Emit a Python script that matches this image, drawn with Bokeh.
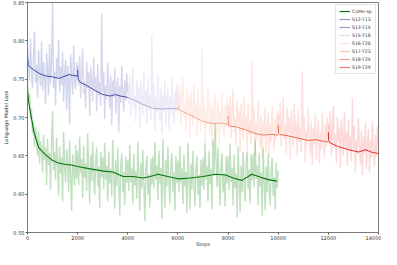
from bokeh.plotting import figure
from bokeh.models import Range1d, FixedTicker, Legend, LegendItem
from bokeh.embed import file_html
from bokeh.resources import INLINE

# ---------------- data ----------------
x_ticks = [0, 2000, 4000, 6000, 8000, 10000, 12000, 14000]
x_tick_labels = ["0", "2000", "4000", "6000", "8000", "10000", "12000", "14000"]
y_ticks = [0.55, 0.60, 0.65, 0.70, 0.75, 0.80, 0.85]
y_tick_labels = ["0.55", "0.60", "0.65", "0.70", "0.75", "0.80", "0.85"]
x_title = "Steps"
y_title = "Language Model Loss"

seg_labels = ["S12-T13", "S13-T15", "S15-T18", "S16-T20", "S17-T23", "S18-T25", "S19-T29"]
seg_starts = [0, 2000, 4000, 6000, 8000, 10000, 12000]
raw_step = 40

s12_raw = [0.792, 0.771, 0.748, 0.803, 0.760, 0.738, 0.781, 0.812, 0.745, 0.769,
           0.726, 0.788, 0.757, 0.741, 0.799, 0.735, 0.772, 0.751, 0.718, 0.784,
           0.763, 0.729, 0.796, 0.744, 0.770, 0.850, 0.739, 0.760, 0.715, 0.778,
           0.752, 0.801, 0.733, 0.766, 0.742, 0.786, 0.721, 0.758, 0.775, 0.709,
           0.768, 0.747, 0.691, 0.782, 0.756, 0.730, 0.794, 0.749, 0.737, 0.772, 0.753]
s13_raw = [0.768, 0.742, 0.781, 0.725, 0.756, 0.790, 0.731, 0.747, 0.712, 0.773,
           0.738, 0.759, 0.702, 0.766, 0.744, 0.721, 0.779, 0.735, 0.752, 0.708,
           0.770, 0.729, 0.746, 0.715, 0.836, 0.733, 0.760, 0.698, 0.742, 0.724,
           0.771, 0.739, 0.711, 0.755, 0.690, 0.748, 0.726, 0.764, 0.705, 0.737,
           0.752, 0.680, 0.741, 0.719, 0.767, 0.730, 0.708, 0.749, 0.722, 0.758, 0.733]
s15_raw = [0.742, 0.718, 0.755, 0.701, 0.733, 0.766, 0.712, 0.728, 0.694, 0.750,
           0.720, 0.739, 0.686, 0.748, 0.725, 0.703, 0.760, 0.716, 0.735, 0.692,
           0.751, 0.711, 0.729, 0.697, 0.808, 0.714, 0.744, 0.683, 0.726, 0.707,
           0.756, 0.721, 0.695, 0.739, 0.678, 0.731, 0.709, 0.749, 0.690, 0.722,
           0.740, 0.684, 0.727, 0.704, 0.752, 0.716, 0.693, 0.735, 0.708, 0.745, 0.719]
s16_raw = [0.731, 0.705, 0.744, 0.690, 0.722, 0.752, 0.699, 0.716, 0.680, 0.738,
           0.707, 0.726, 0.673, 0.735, 0.711, 0.689, 0.745, 0.700, 0.720, 0.676,
           0.736, 0.695, 0.713, 0.681, 0.790, 0.697, 0.727, 0.667, 0.709, 0.690,
           0.739, 0.703, 0.677, 0.721, 0.662, 0.713, 0.691, 0.731, 0.671, 0.704,
           0.722, 0.665, 0.708, 0.685, 0.733, 0.697, 0.674, 0.716, 0.688, 0.726, 0.699]
s17_raw = [0.715, 0.688, 0.729, 0.672, 0.705, 0.737, 0.681, 0.699, 0.662, 0.722,
           0.690, 0.709, 0.655, 0.719, 0.694, 0.671, 0.728, 0.683, 0.702, 0.658,
           0.719, 0.677, 0.696, 0.664, 0.773, 0.680, 0.710, 0.650, 0.692, 0.673,
           0.721, 0.686, 0.660, 0.704, 0.646, 0.696, 0.674, 0.714, 0.654, 0.687,
           0.706, 0.649, 0.691, 0.668, 0.716, 0.680, 0.657, 0.699, 0.671, 0.709, 0.682]
s18_raw = [0.705, 0.679, 0.720, 0.663, 0.696, 0.727, 0.672, 0.690, 0.653, 0.713,
           0.681, 0.700, 0.646, 0.710, 0.685, 0.662, 0.719, 0.674, 0.693, 0.649,
           0.710, 0.668, 0.687, 0.655, 0.760, 0.671, 0.701, 0.641, 0.683, 0.664,
           0.712, 0.677, 0.651, 0.695, 0.637, 0.687, 0.665, 0.705, 0.645, 0.678,
           0.697, 0.640, 0.682, 0.659, 0.707, 0.671, 0.648, 0.690, 0.662, 0.700, 0.673]
s19_raw = [0.693, 0.667, 0.708, 0.651, 0.684, 0.715, 0.660, 0.678, 0.641, 0.701,
           0.669, 0.688, 0.634, 0.698, 0.673, 0.650, 0.707, 0.662, 0.681, 0.637,
           0.698, 0.656, 0.675, 0.643, 0.725, 0.659, 0.689, 0.629, 0.671, 0.652,
           0.700, 0.665, 0.639, 0.683, 0.625, 0.675, 0.653, 0.693, 0.633, 0.666,
           0.685, 0.628, 0.670, 0.647, 0.695, 0.659, 0.636, 0.678, 0.650, 0.688, 0.661]
seg_raw = [s12_raw, s13_raw, s15_raw, s16_raw, s17_raw, s18_raw, s19_raw]

seg_smooth_steps = [
    [0, 30, 100, 250, 500, 750, 1000, 1250, 1500, 1650, 1800, 2000],
    [2000, 2020, 2100, 2400, 2700, 3000, 3300, 3500, 3700, 3900, 4000],
    [4000, 4300, 4600, 5000, 5400, 5700, 6000],
    [6000, 6020, 6300, 6700, 7000, 7400, 7700, 8000],
    [8000, 8010, 8050, 8300, 8700, 9000, 9400, 9700, 10000],
    [10000, 10010, 10050, 10400, 10800, 11200, 11500, 11800, 12000],
    [12000, 12010, 12060, 12400, 12800, 13200, 13500, 13700, 14000],
]
seg_smooth = [
    [0.780, 0.768, 0.766, 0.762, 0.757, 0.754, 0.753, 0.751, 0.754, 0.756, 0.755, 0.754],
    [0.762, 0.750, 0.746, 0.741, 0.735, 0.730, 0.728, 0.730, 0.728, 0.727, 0.726],
    [0.726, 0.722, 0.717, 0.712, 0.711, 0.712, 0.711],
    [0.716, 0.711, 0.706, 0.700, 0.695, 0.692, 0.693, 0.691],
    [0.702, 0.690, 0.689, 0.688, 0.684, 0.680, 0.677, 0.678, 0.677],
    [0.690, 0.679, 0.678, 0.676, 0.673, 0.670, 0.671, 0.669, 0.668],
    [0.681, 0.670, 0.667, 0.662, 0.658, 0.655, 0.658, 0.655, 0.653],
]

come_raw = [
    0.748, 0.722, 0.731, 0.698, 0.712, 0.680, 0.695, 0.662, 0.688, 0.671, 0.650, 0.683, 0.640, 0.669, 0.656, 0.628, 0.677, 0.645, 0.661, 0.612, 0.672, 0.638, 0.654, 0.606, 0.666,
    0.708, 0.631, 0.655, 0.619, 0.674, 0.642, 0.598, 0.662, 0.627, 0.648, 0.590, 0.681, 0.636, 0.615, 0.659, 0.641, 0.603, 0.670, 0.625, 0.578, 0.652, 0.633, 0.611, 0.664, 0.620,
    0.657, 0.612, 0.675, 0.628, 0.646, 0.595, 0.663, 0.621, 0.640, 0.604, 0.679, 0.632, 0.588, 0.651, 0.617, 0.668, 0.625, 0.599, 0.644, 0.661, 0.610, 0.636, 0.582, 0.655, 0.622,
    0.648, 0.606, 0.667, 0.619, 0.637, 0.590, 0.656, 0.614, 0.633, 0.597, 0.671, 0.625, 0.581, 0.644, 0.610, 0.661, 0.618, 0.572, 0.638, 0.653, 0.603, 0.629, 0.586, 0.649, 0.615,
    0.645, 0.604, 0.664, 0.616, 0.634, 0.588, 0.653, 0.611, 0.630, 0.594, 0.668, 0.622, 0.578, 0.641, 0.607, 0.658, 0.615, 0.565, 0.635, 0.650, 0.600, 0.626, 0.583, 0.646, 0.612,
    0.649, 0.607, 0.668, 0.619, 0.638, 0.592, 0.657, 0.614, 0.634, 0.568, 0.672, 0.625, 0.582, 0.645, 0.610, 0.662, 0.618, 0.588, 0.639, 0.654, 0.603, 0.629, 0.578, 0.650, 0.615,
    0.644, 0.603, 0.663, 0.615, 0.633, 0.587, 0.652, 0.610, 0.629, 0.575, 0.667, 0.621, 0.580, 0.640, 0.606, 0.657, 0.614, 0.584, 0.634, 0.649, 0.599, 0.625, 0.582, 0.645, 0.611,
    0.648, 0.606, 0.667, 0.619, 0.637, 0.590, 0.656, 0.613, 0.633, 0.580, 0.671, 0.624, 0.692, 0.644, 0.609, 0.661, 0.617, 0.585, 0.638, 0.653, 0.602, 0.628, 0.584, 0.649, 0.614,
    0.650, 0.605, 0.666, 0.616, 0.634, 0.585, 0.652, 0.608, 0.627, 0.570, 0.662, 0.617, 0.576, 0.637, 0.603, 0.655, 0.612, 0.590, 0.640, 0.656, 0.606, 0.632, 0.588, 0.652, 0.618,
    0.652, 0.609, 0.670, 0.620, 0.638, 0.586, 0.654, 0.610, 0.628, 0.572, 0.661, 0.615, 0.579, 0.636, 0.602, 0.652, 0.609, 0.585, 0.633, 0.647, 0.598, 0.622, 0.580, 0.641, 0.608,
    0.630,
]
come_smooth_steps = [0, 40, 120, 250, 440, 700, 960, 1200, 1480, 1750, 2000, 2500, 3040, 3400, 3820, 4200,
                     4600, 4900, 5200, 5600, 6000, 6500, 7000, 7500, 7900, 8200, 8550, 8950, 9300, 9600, 9950]
come_smooth = [0.735, 0.722, 0.706, 0.682, 0.661, 0.652, 0.645, 0.641, 0.639, 0.638, 0.636, 0.633, 0.630, 0.629,
               0.623, 0.623, 0.621, 0.623, 0.626, 0.623, 0.620, 0.621, 0.623, 0.626, 0.625, 0.621, 0.618, 0.626,
               0.622, 0.619, 0.617]

# ---------------- styles ----------------
raw_colors = ["#7080c4", "#8a82c4", "#c8c0e2", "#fcc4b0", "#fbaa94", "#f99c98", "#f58686"]
smooth_colors = ["#3c4ca6", "#4b4ba3", "#b9a7d7", "#f7a68b", "#f28060", "#ee6142", "#e62a2a"]
legend_colors = ["#8e98c8", "#a09ccc", "#dcdaec", "#fde2d8", "#fcc0ac", "#fa9e88", "#f47a7a"]
come_raw_color = "#3a9e3a"
come_smooth_color = "#0a720a"
FONT = "DejaVu Sans"
NAN = float("nan")

p = figure(width=381, height=249, output_backend="svg", toolbar_location=None,
           x_range=Range1d(0, 14000), y_range=Range1d(0.55, 0.85),
           min_border_left=0, min_border_right=3, min_border_top=2, min_border_bottom=0)
p.background_fill_color = "white"
p.border_fill_color = "white"
p.outline_line_color = "#7a7a7a"
p.outline_line_width = 1
p.xgrid.visible = False
p.ygrid.visible = False

for ax in (p.xaxis[0], p.yaxis[0]):
    ax.axis_line_color = "#7a7a7a"
    ax.major_tick_line_color = "#555555"
    ax.minor_tick_line_color = None
    ax.major_tick_out = 2
    ax.major_tick_in = 0
    ax.major_label_text_font = FONT
    ax.major_label_text_font_size = "5px"
    ax.major_label_text_color = "#333333"
    ax.major_label_text_line_height = 0.6
    ax.major_label_standoff = 1
    ax.axis_label_text_font = FONT
    ax.axis_label_text_font_size = "5px"
    ax.axis_label_text_font_style = "normal"
    ax.axis_label_text_color = "#333333"
    ax.axis_label_text_line_height = 0.6
    ax.axis_label_standoff = 1

p.xaxis.axis_label_standoff = -2
p.xaxis.ticker = FixedTicker(ticks=x_ticks)
p.xaxis.major_label_overrides = {t: l for t, l in zip(x_ticks, x_tick_labels)}
p.yaxis.ticker = FixedTicker(ticks=y_ticks)
p.yaxis.major_label_overrides = {t: l for t, l in zip(y_ticks, y_tick_labels)}
p.xaxis.axis_label = x_title
p.yaxis.axis_label = y_title

# raw (noisy) curves
for start, raw, col in zip(seg_starts, seg_raw, raw_colors):
    xs = list(range(start, start + raw_step * len(raw), raw_step))
    p.line(xs, raw, line_color=col, line_alpha=0.32, line_width=1.4)

come_x = list(range(0, raw_step * len(come_raw), raw_step))
p.line(come_x, come_raw, line_color=come_raw_color, line_alpha=0.32, line_width=1.4)

# smoothed curves
for xs, ys, col in zip(seg_smooth_steps, seg_smooth, smooth_colors):
    p.line(xs, ys, line_color=col, line_width=1.0)
p.line(come_smooth_steps, come_smooth, line_color=come_smooth_color, line_width=1.1)

# legend (proxy renderers that draw nothing in the plot)
items = []
r = p.line(x=[NAN], y=[NAN], line_color=come_smooth_color, line_width=1.2)
items.append(LegendItem(label="CoMe-sp", renderers=[r]))
for lab, col in zip(seg_labels, legend_colors):
    r = p.line(x=[NAN], y=[NAN], line_color=col, line_width=1.2)
    items.append(LegendItem(label=lab, renderers=[r]))

legend = Legend(items=items, location="top_right")
legend.label_text_font = FONT
legend.label_text_font_size = "4.6px"
legend.label_text_color = "#333333"
legend.label_text_line_height = 0.6
legend.glyph_width = 11
legend.glyph_height = 6
legend.label_height = 6
legend.label_standoff = 2
legend.spacing = 2
legend.padding = 3
legend.margin = 2
legend.border_line_color = "#cccccc"
legend.border_line_width = 0.8
legend.background_fill_alpha = 0.85
p.add_layout(legend)

open("out.html", "w").write(file_html(p, INLINE))
